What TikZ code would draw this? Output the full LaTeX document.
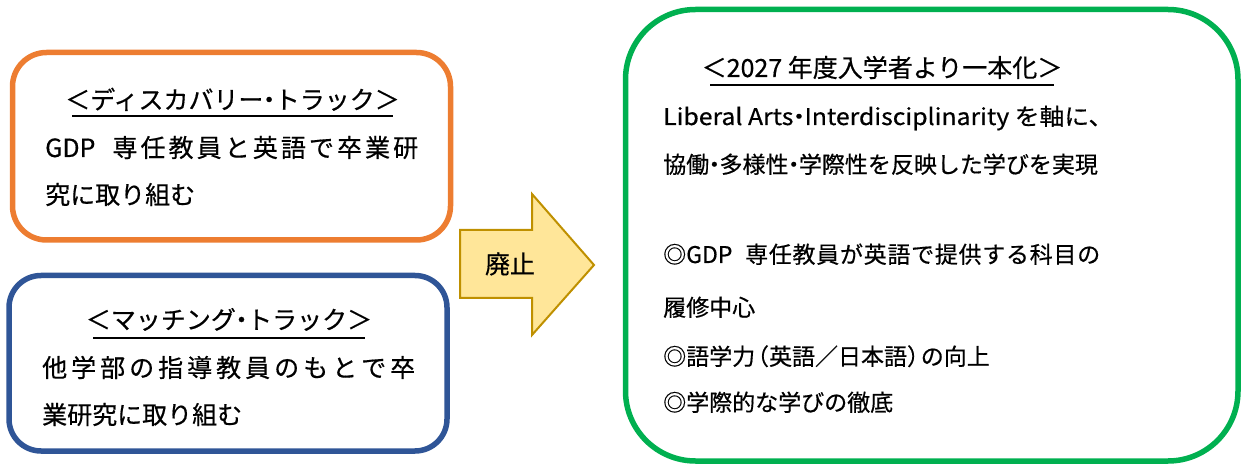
\documentclass[tikz,border=0pt]{standalone}
\usepackage{fontspec}
\setmainfont{Noto Sans CJK JP}
\newfontfamily\jp[FakeBold=0.5]{Noto Sans CJK JP}
\definecolor{orng}{HTML}{ED7D31}
\definecolor{blu}{HTML}{2F5597}
\definecolor{grn}{HTML}{00B050}
\definecolor{arrfill}{HTML}{FFE699}
\definecolor{arrline}{HTML}{BF9000}
\newcommand{\jline}[2]{\makebox[#1][s]{\spaceskip=0pt plus 1fil\relax #2}}
\newcommand{\nd}{\makebox[0.45em]{・}}
\newcommand{\lp}{\makebox[0.6em][r]{（}}
\newcommand{\rp}{\makebox[0.6em][l]{）}}
\begin{document}
\begin{tikzpicture}[x=1pt,y=-1pt,
  panel/.style={line width=5.5pt,rounded corners=#1},
  ltxt/.style={inner sep=0pt,anchor=base west,font=\jp\fontsize{25}{25}\selectfont},
  gtxt/.style={inner sep=0pt,anchor=base west,font=\jp\fontsize{23}{23}\selectfont},
  ttl/.style={inner sep=0pt,anchor=base,font=\jp\fontsize{25}{25}\selectfont},
  ttlline/.style={line width=2.8pt,draw=black}]
\useasboundingbox (0,0) rectangle (1243,465);
% boxes
\draw[panel=34pt,draw=orng] (12.5,52.5) rectangle (450.5,240);
\draw[panel=32pt,draw=blu] (9,275.5) rectangle (447,451);
\draw[panel=70pt,draw=grn] (625.5,9.5) rectangle (1238,461);
% arrow
\draw[fill=arrfill,draw=arrline,line width=2pt,line join=miter]
  (460,230) -- (532,230) -- (532,194) -- (594,265) -- (532,335) -- (532,298) -- (460,298) -- cycle;
\node[inner sep=0pt,font=\jp\fontsize{25}{25}\selectfont] (haishi) at (510,264) {廃止};
% orange box text
\node[ttl] (t1) at (232.5,109) {＜ディスカバリー\nd トラック＞};
\coordinate (t1a) at (72,116);
\coordinate (t1b) at (393,116);
\draw[ttlline] (t1a) -- (t1b);
\node[ltxt] (o1) at (45,157) {\jline{373pt}{GDP\hspace{14pt} 専 任 教 員 と 英 語 で 卒 業 研}};
\node[ltxt] (o2) at (45,204) {究に取り組む};
% blue box text
\node[ttl] (t2) at (229,329) {＜マッチング\nd トラック＞};
\coordinate (t2a) at (93,338);
\coordinate (t2b) at (365,338);
\draw[ttlline] (t2a) -- (t2b);
\node[ltxt] (b1) at (42,377) {\jline{373pt}{他 学 部 の 指 導 教 員 の も と で 卒}};
\node[ltxt] (b2) at (42,424) {業研究に取り組む};
% green box text
\node[ttl] (t3) at (882,77) {＜2027 年度入学者より一本化＞};
\coordinate (t3a) at (710,85);
\coordinate (t3b) at (1054,85);
\draw[ttlline] (t3a) -- (t3b);
\node[gtxt] (g1) at (663,125) {\resizebox{450pt}{\height}{Liberal Arts\nd Interdisciplinarity を軸に、}};
\node[gtxt] (g2) at (663,173) {協働\nd 多様性\nd 学際性を反映した学びを実現};
\node[gtxt] (g3) at (663,263) {\jline{437pt}{◎GDP\hspace{12pt} 専 任 教 員 が 英 語 で 提 供 す る 科 目 の}};
\node[gtxt] (g4) at (663,316) {履修中心};
\node[gtxt] (g5) at (663,365) {◎語学力\lp 英語／日本語\rp の向上};
\node[gtxt] (g6) at (663,411) {◎学際的な学びの徹底};
\end{tikzpicture}
\end{document}
